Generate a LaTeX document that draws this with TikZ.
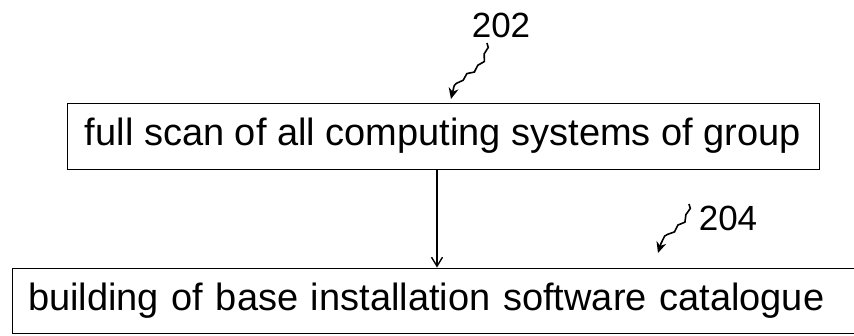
\documentclass[tikz,border=0pt]{standalone}
\usepackage{fontspec}
\setmainfont{Liberation Sans}
\usepackage{tikz}
\usetikzlibrary{shapes,arrows,positioning,calc,decorations.pathmorphing,arrows.meta}

\tikzset{
  stepbox/.style={draw, line width=0.9pt, rectangle, inner sep=0pt, font=\fontsize{38}{40}\selectfont},
  refnum/.style={font=\fontsize{35}{37}\selectfont, inner sep=0pt},
  wavy/.style={line width=1.6pt, -{Stealth[length=11pt,width=10pt]}, decorate,
    decoration={snake, amplitude=1.5pt, segment length=14pt, post length=10pt}}
}

\begin{document}
\begin{tikzpicture}[auto, >=latex, thick, x=1pt, y=1pt]
   \useasboundingbox (0,0) rectangle (854,336);

   % Boxes
   \node[stepbox, minimum width=752pt, minimum height=66pt] (scan) at (443,200)
        {full scan of all computing systems of group};
   % bottom box runs off the right edge
   \node[stepbox, minimum height=65pt, inner xsep=16pt, text width=830pt, align=left]
        (catalogue) at (443,35.5)
        {building of base installation software catalogue};

   % Flow
   \draw[line width=1.4pt, -{Straight Barb[length=9pt,width=11pt]}]
        ([xshift=-6pt]scan.south) -- ([xshift=-6pt]scan.south |- catalogue.north);

   % Reference numerals
   \node[refnum] (num202) at (501,311) {202};
   \coordinate (from202) at (487,293);
   \coordinate (to202) at (451,237);
   \draw[wavy] (from202) .. controls (485,261) and (456,272) .. (to202);

   \node[refnum] (num204) at (728,118) {204};
   \coordinate (from204) at (689,132);
   \coordinate (to204) at (658,83);
   \draw[wavy] (from204) .. controls (688,110) and (664,112) .. (to204);
\end{tikzpicture}
\end{document}
